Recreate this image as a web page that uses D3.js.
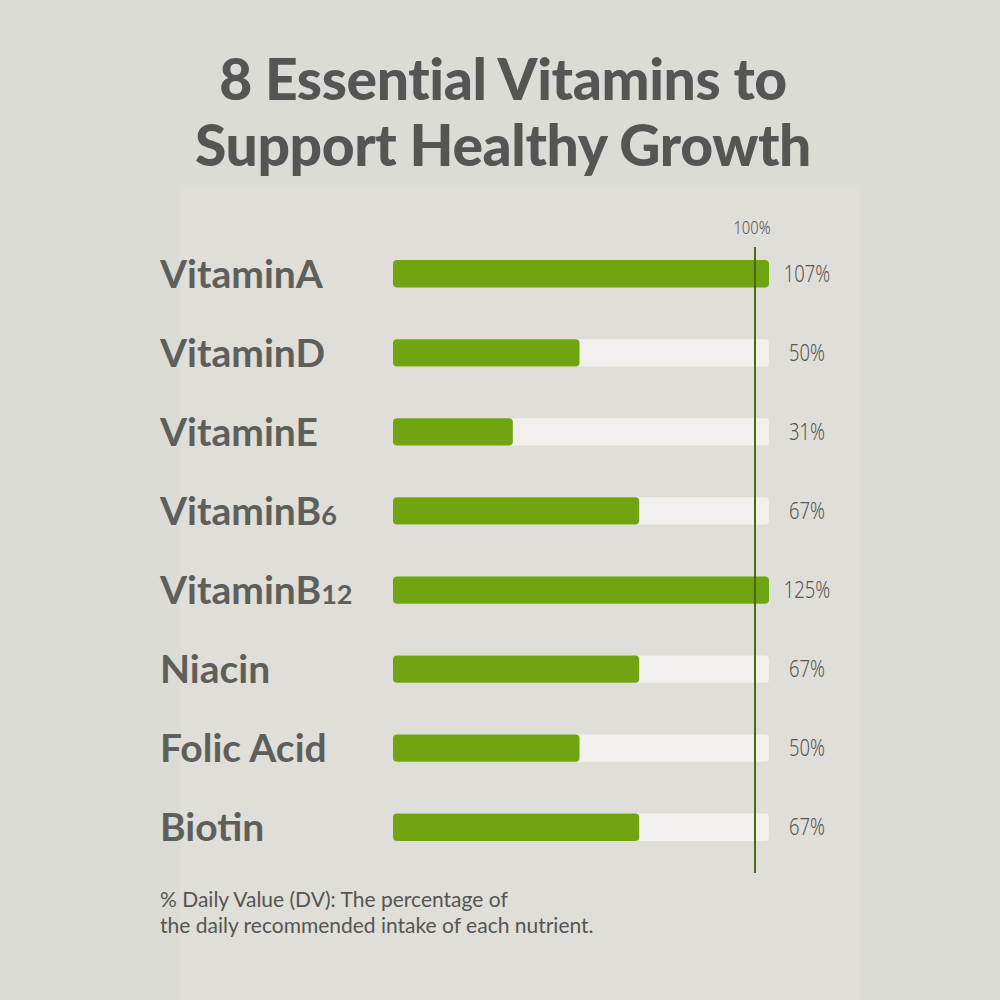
<!DOCTYPE html>
<html><head><meta charset="utf-8">
<script src="https://cdn.jsdelivr.net/npm/d3@7"></script>
<style>html,body{margin:0;padding:0;background:#dcdcd6;}svg{display:block;}</style>
</head><body>
<script>
const categories = ["VitaminA","VitaminD","VitaminE","VitaminB6","VitaminB12","Niacin","Folic Acid","Biotin"];
const baseNames = ["VitaminA","VitaminD","VitaminE","VitaminB","VitaminB","Niacin","Folic Acid","Biotin"];
const subscripts = ["","","","6","12","","",""];
const values = [107,50,31,67,125,67,50,67];
const valueLabels = ["107%","50%","31%","67%","125%","67%","50%","67%"];
const refValue = 100;
const refLabel = "100%";
const titleLines = ["8 Essential Vitamins to","Support Healthy Growth"];
const footnote = ["% Daily Value (DV): The percentage of","the daily recommended intake of each nutrient."];

const W=1000,H=1000;
const svg=d3.select("body").append("svg").attr("width",W).attr("height",H);
svg.append("rect").attr("width",W).attr("height",H).attr("fill","#dcdcd6");
svg.append("rect").attr("x",180).attr("y",185).attr("width",680).attr("height",815).attr("fill","#dfded9");

// title
svg.selectAll("text.title").data(titleLines).enter().append("text")
  .attr("x",W/2+3).attr("y",(d,i)=>100+i*66)
  .attr("text-anchor","middle")
  .style("font-family","Lato").style("font-weight",900).style("font-size","57px")
  .style("letter-spacing","-0.4px")
  .attr("fill","#555553").text(d=>d);

const trackLeft=393, trackRight=769;
const x=d3.scaleLinear().domain([0,refValue]).range([404,755]);
const y=d3.scaleBand().domain(categories).range([234,867]).paddingInner(0.655).paddingOuter(0.33);

const g=svg.append("g");
// tracks
g.selectAll("rect.track").data(categories).enter().append("rect")
  .attr("x",trackLeft).attr("y",d=>y(d)).attr("width",trackRight-trackLeft).attr("height",y.bandwidth())
  .attr("rx",4).attr("fill","#f1f0ed");
// bars
g.selectAll("rect.bar").data(values).enter().append("rect")
  .attr("x",trackLeft).attr("y",(d,i)=>y(categories[i]))
  .attr("width",d=>Math.min(x(d),trackRight)-trackLeft).attr("height",y.bandwidth())
  .attr("rx",4).attr("fill","#70a511");

// reference line
g.append("line").attr("x1",x(refValue)).attr("x2",x(refValue)).attr("y1",247).attr("y2",873)
  .attr("stroke","#4d6a12").attr("stroke-width",2);
g.append("text").attr("transform",`translate(${x(refValue)-3},234) scale(0.82,1)`).attr("text-anchor","middle")
  .style("font-family","'Noto Sans'").style("font-weight",300).style("font-size","18px")
  .attr("fill","#555").text(refLabel);

// category labels
const lab=g.selectAll("text.cat").data(categories).enter().append("text")
  .attr("x",160).attr("y",d=>y(d)+y.bandwidth()/2+14)
  .style("font-family","Lato").style("font-weight",700).style("font-size","39px")
  .attr("fill","#5e5e5b");
lab.append("tspan").text((d,i)=>baseNames[i]);
lab.append("tspan").style("font-size","27px").text((d,i)=>subscripts[i]);

// value labels
g.selectAll("text.val").data(valueLabels).enter().append("text")
  .attr("transform",(d,i)=>`translate(807,${y(categories[i])+y.bandwidth()/2+8}) scale(0.8,1)`)
  .attr("text-anchor","middle")
  .style("font-family","'Noto Sans'").style("font-weight",300).style("font-size","23px")
  .attr("fill","#555").text(d=>d);

// footnote
svg.selectAll("text.foot").data(footnote).enter().append("text")
  .attr("x",160).attr("y",(d,i)=>907+i*26)
  .style("font-family","Lato").style("font-weight",400).style("font-size","21px")
  .attr("fill","#555553").text(d=>d);
</script>
</body></html>
